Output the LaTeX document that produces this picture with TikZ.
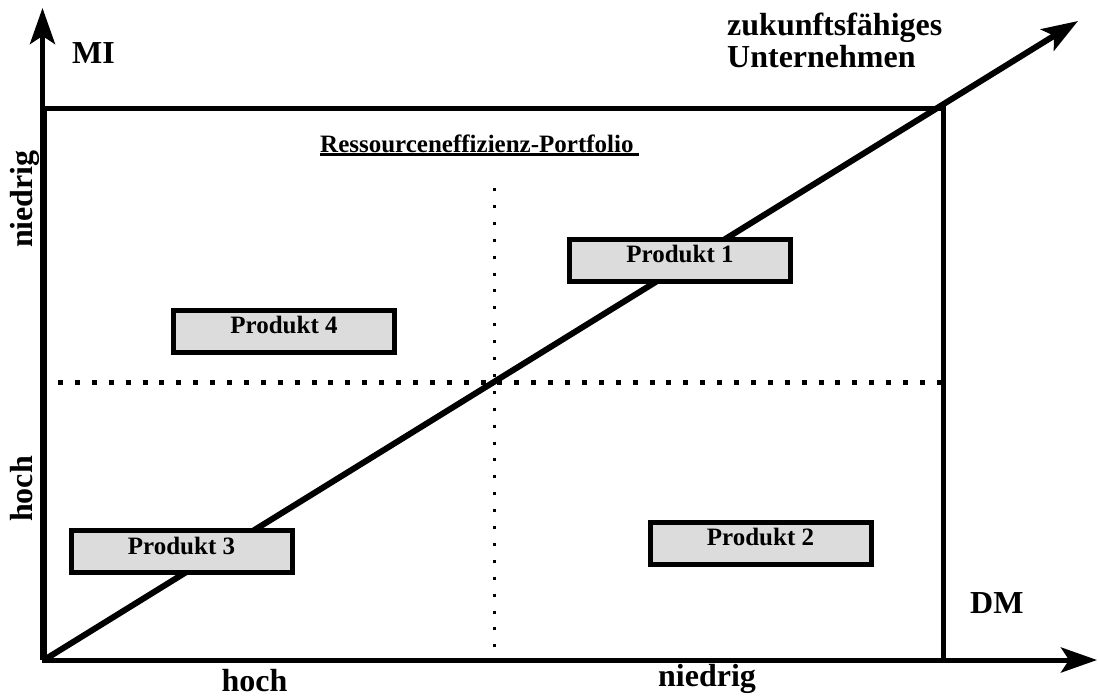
\documentclass[tikz,border=0pt]{standalone}
\usepackage{fontspec}
\setmainfont{Liberation Serif}
\usetikzlibrary{arrows.meta}
\definecolor{boxgray}{HTML}{DCDCDC}
\newcommand\lblfont{\fontsize{32}{32}\selectfont\bfseries}
\newcommand\prodfont{\fontsize{25}{25}\selectfont\bfseries}
\begin{document}
\begin{tikzpicture}[x=1pt,y=-1pt,
  bigtip/.style={-{Stealth[length=36pt,width=25pt,inset=8pt]}},
  axisarrow/.style={line width=5pt,bigtip},
  frame/.style={line width=5pt},
  quadrant/.style={line width=#1,dash pattern=on #1 off 16.9pt-#1},
  prodbox/.style={draw=black,line width=5pt,fill=boxgray,
    minimum width=221pt,minimum height=42pt,inner sep=0pt,
    text height=15pt,text depth=10pt,font=\prodfont},
  lbl/.style={inner sep=0pt,font=\lblfont},
]
\useasboundingbox (0,0) rectangle (1098,697);

% axes and portfolio frame
\coordinate (O) at (42.5,660);
\coordinate (ytip) at (42.5,8);
\coordinate (xtip) at (1097,660);
\coordinate (frameBL) at (44.5,660);
\coordinate (frameTR) at (943,108);
\draw[frame] (frameBL) rectangle (frameTR);
\draw[axisarrow] (O) -- (ytip);
\draw[axisarrow] (O) -- (xtip);

% quadrant separators
\coordinate (vtop) at (494,188);
\coordinate (vbot) at (494,660);
\coordinate (hleft) at (58,382.5);
\coordinate (hright) at (943,382.5);
\draw[quadrant=3pt] (vtop) -- (vbot);
\draw[quadrant=5pt] (hleft) -- (hright);

% development direction
\coordinate (dstart) at (44,660);
\coordinate (dtip) at (1078,21);
\draw[line width=6pt,bigtip] (dstart) -- (dtip);

% title
\node[anchor=base west,inner sep=0pt,font=\prodfont] (title) at (320,152) {Ressourceneffizienz-Portfolio};
\draw[line width=2.2pt] ([yshift=-2.5pt]title.base west) -- ([yshift=-2.5pt,xshift=5pt]title.base east);

% products
\node[prodbox] (p1) at (680,260) {Produkt 1};
\node[prodbox] (p2) at (760.5,543) {Produkt 2};
\node[prodbox] (p3) at (181.5,551.5) {Produkt 3};
\node[prodbox] (p4) at (284,331) {Produkt 4};

% axis labels
\node[lbl,anchor=base west] (mi) at (72,63) {MI};
\node[lbl,anchor=base west] (dm) at (970,613) {DM};
\node[lbl,anchor=base west] (zuk) at (727,35) {zukunftsfähiges};
\node[lbl,anchor=base west] (unt) at (727,67) {Unternehmen};
\node[lbl,anchor=base] (xhoch) at (254.5,691) {hoch};
\node[lbl,anchor=base] (xniedrig) at (707,686) {niedrig};
\node[lbl,anchor=base,rotate=90] (yniedrig) at (32,199) {niedrig};
\node[lbl,anchor=base,rotate=90] (yhoch) at (32,489) {hoch};
\end{tikzpicture}
\end{document}
